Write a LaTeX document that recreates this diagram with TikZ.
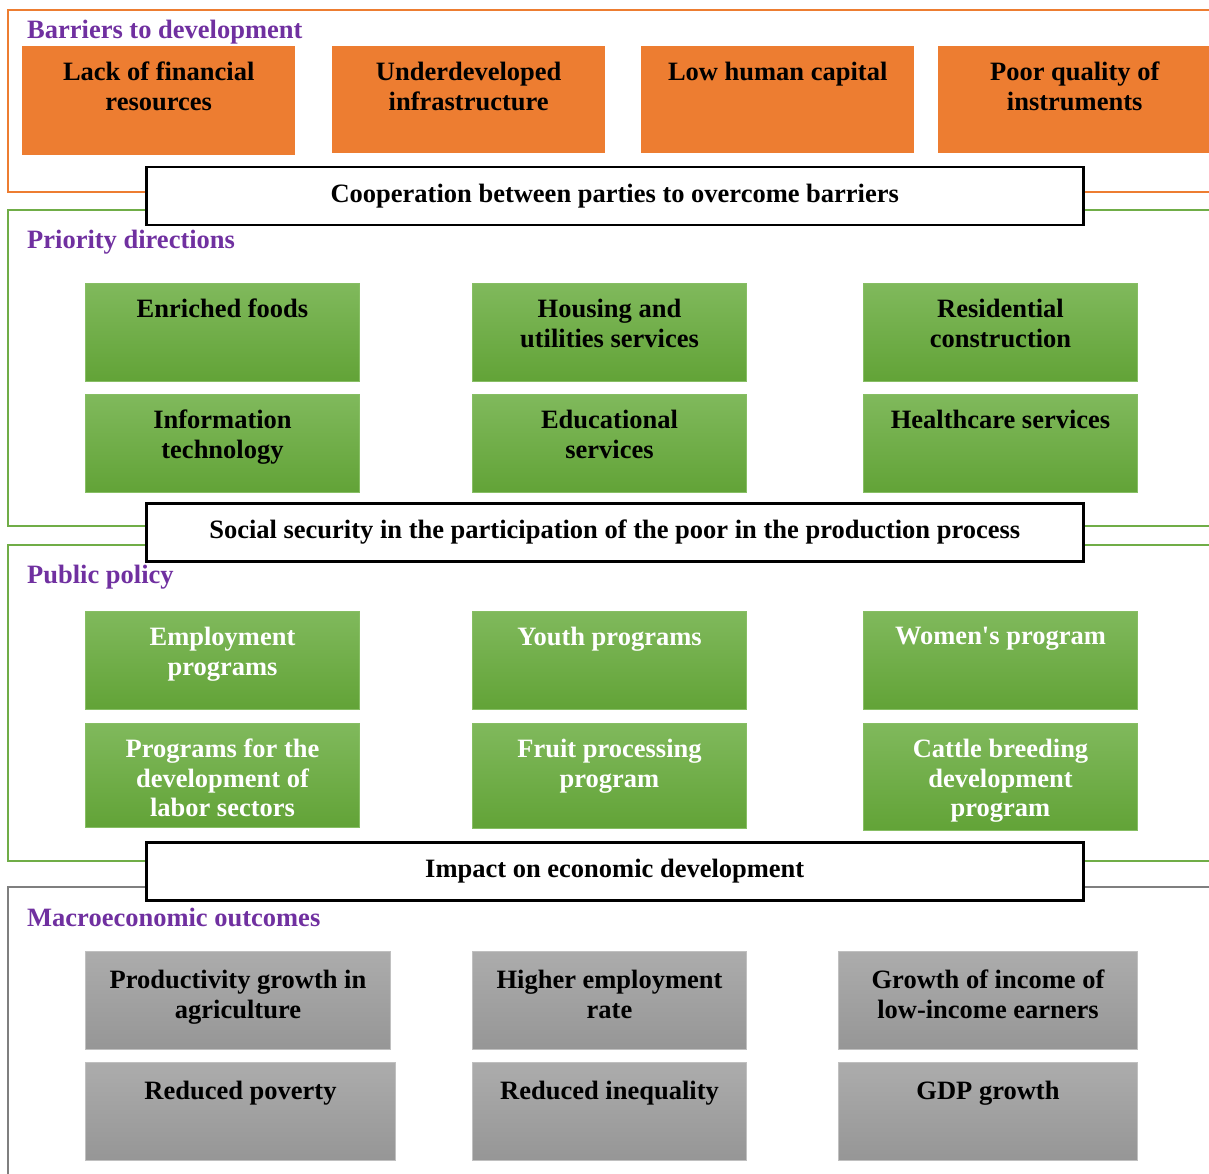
\documentclass[tikz,border=0pt]{standalone}
\usepackage{fontspec}
\setmainfont{Liberation Serif}
\definecolor{barrierorange}{RGB}{237,125,49}
\definecolor{framegreen}{RGB}{112,173,71}
\definecolor{greentop}{RGB}{128,185,92}
\definecolor{greenbottom}{RGB}{98,163,55}
\definecolor{greenedge}{RGB}{135,190,100}
\definecolor{framegray}{RGB}{127,127,127}
\definecolor{graytop}{RGB}{172,172,172}
\definecolor{graybottom}{RGB}{150,150,150}
\definecolor{grayedge}{RGB}{192,192,192}
\definecolor{titlepurple}{RGB}{112,48,160}
\newcommand{\boxfont}{\fontsize{26.5}{29.5}\selectfont\bfseries}
\tikzset{
  sectionframe/.style={line width=2pt},
  sectiontitle/.style={anchor=west,inner sep=0pt,text=titlepurple,font=\boxfont},
  barrierbox/.style={anchor=north west,fill=barrierorange,minimum width=273pt,minimum height=107pt,inner sep=0pt},
  greenbox/.style={anchor=north west,draw=greenedge,line width=1pt,top color=greentop,bottom color=greenbottom,minimum width=274pt,minimum height=98pt,inner sep=0pt},
  graybox/.style={anchor=north west,draw=grayedge,line width=1pt,top color=graytop,bottom color=graybottom,minimum width=274pt,minimum height=98pt,inner sep=0pt},
  boxtext/.style={anchor=north,align=center,inner sep=0pt,yshift=-16pt,font=\boxfont},
  banner/.style={anchor=north west,draw=black,line width=2.5pt,fill=white,minimum width=937pt,minimum height=58pt,inner sep=0pt,font=\boxfont}
}
\begin{document}
\begin{tikzpicture}[x=1pt,y=-1pt]
  \useasboundingbox (0,0) rectangle (1209,1174);
  \clip (0,0) rectangle (1209,1174);
  % section frames, open to the right
  \draw[sectionframe,barrierorange] (1215,10) -| (8,192) -- (1215,192);
  \draw[sectionframe,framegreen] (1215,210) -| (8,526) -- (1215,526);
  \draw[sectionframe,framegreen] (1215,545) -| (8,861) -- (1215,861);
  \draw[sectionframe,framegray] (1215,887) -| (8,1180);
  \node[sectiontitle] (barriers) at (27,32) {Barriers to development};
  \node[sectiontitle] (priority) at (27,242) {Priority directions};
  \node[sectiontitle] (policy) at (27,577) {Public policy};
  \node[sectiontitle] (outcomes) at (27,917) {Macroeconomic outcomes};

  % barriers
  \node[barrierbox,minimum height=109pt] (finance) at (22,46) {};
  \node[barrierbox] (infra) at (332,46) {};
  \node[barrierbox] (capital) at (641,46) {};
  \node[barrierbox] (instruments) at (938,46) {};
  \node[boxtext] (finance-t) at (finance.north) {Lack of financial\\resources};
  \node[boxtext] (infra-t) at (infra.north) {Underdeveloped\\infrastructure};
  \node[boxtext] (capital-t) at (capital.north) {Low human capital};
  \node[boxtext] (instruments-t) at (instruments.north) {Poor quality of\\instruments};
  \node[banner] (cooperation) at (145,166) {Cooperation between parties to overcome barriers};

  % priority directions
  \node[greenbox] (foods) at (85,283) {};
  \node[greenbox] (housing) at (472,283) {};
  \node[greenbox] (residential) at (863,283) {};
  \node[greenbox] (infotech) at (85,394) {};
  \node[greenbox] (education) at (472,394) {};
  \node[greenbox] (health) at (863,394) {};
  \node[boxtext] (foods-t) at (foods.north) {Enriched foods};
  \node[boxtext] (housing-t) at (housing.north) {Housing and\\utilities services};
  \node[boxtext] (residential-t) at (residential.north) {Residential\\construction};
  \node[boxtext] (infotech-t) at (infotech.north) {Information\\technology};
  \node[boxtext] (education-t) at (education.north) {Educational\\services};
  \node[boxtext] (health-t) at (health.north) {Healthcare services};
  \node[banner] (security) at (145,502) {Social security in the participation of the poor in the production process};

  % public policy
  \node[greenbox] (employment) at (85,611) {};
  \node[greenbox] (youth) at (472,611) {};
  \node[greenbox] (women) at (863,611) {};
  \node[greenbox,minimum height=104pt] (labor) at (85,723) {};
  \node[greenbox,minimum height=105pt] (fruit) at (472,723) {};
  \node[greenbox,minimum height=107pt] (cattle) at (863,723) {};
  \node[boxtext,text=white] (employment-t) at (employment.north) {Employment\\programs};
  \node[boxtext,text=white] (youth-t) at (youth.north) {Youth programs};
  \node[boxtext,text=white] (women-t) at (women.north) {Women\textquotesingle s program};
  \node[boxtext,text=white] (labor-t) at (labor.north) {Programs for the\\development of\\labor sectors};
  \node[boxtext,text=white] (fruit-t) at (fruit.north) {Fruit processing\\program};
  \node[boxtext,text=white] (cattle-t) at (cattle.north) {Cattle breeding\\development\\program};
  \node[banner] (impact) at (145,841) {Impact on economic development};

  % macroeconomic outcomes
  \node[graybox,minimum width=305pt] (agri) at (85,951) {};
  \node[graybox] (jobs) at (472,951) {};
  \node[graybox,minimum width=299pt] (income) at (838,951) {};
  \node[graybox,minimum width=310pt] (poverty) at (85,1062) {};
  \node[graybox] (inequality) at (472,1062) {};
  \node[graybox,minimum width=299pt] (gdp) at (838,1062) {};
  \node[boxtext,yshift=-3pt] (agri-t) at (agri.north) {Productivity growth in\\agriculture};
  \node[boxtext,yshift=-3pt] (jobs-t) at (jobs.north) {Higher employment\\rate};
  \node[boxtext,yshift=-3pt] (income-t) at (income.north) {Growth of income of\\low-income earners};
  \node[boxtext,yshift=-3pt] (poverty-t) at (poverty.north) {Reduced poverty};
  \node[boxtext,yshift=-3pt] (inequality-t) at (inequality.north) {Reduced inequality};
  \node[boxtext,yshift=-3pt] (gdp-t) at (gdp.north) {GDP growth};
\end{tikzpicture}
\end{document}
